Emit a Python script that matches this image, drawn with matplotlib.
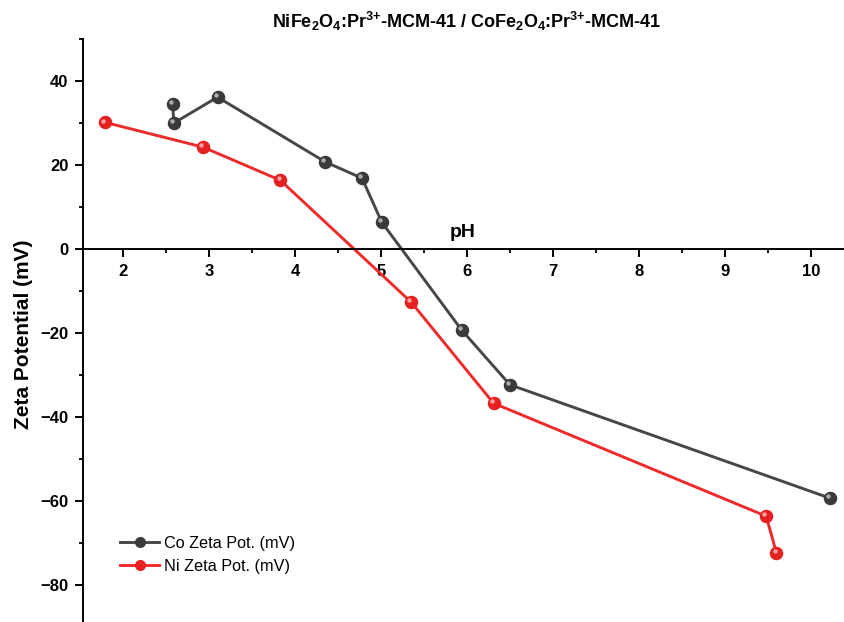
import matplotlib
matplotlib.use('Agg')
import matplotlib.pyplot as plt
from matplotlib.transforms import offset_copy

plt.rcParams['font.family'] = ['Liberation Sans', 'DejaVu Sans']
plt.rcParams['mathtext.fontset'] = 'custom'
plt.rcParams['mathtext.rm'] = 'Liberation Sans:bold'
plt.rcParams['mathtext.default'] = 'rm'

# Co ferrite data
co_ph = [2.58, 2.59, 3.10, 4.35, 4.78, 5.01, 5.94, 6.50, 10.22]
co_zeta = [34.5, 30.0, 36.2, 20.8, 16.9, 6.4, -19.3, -32.3, -59.3]

# Ni ferrite data
ni_ph = [1.79, 2.93, 3.83, 5.35, 6.31, 9.48, 9.60]
ni_zeta = [30.2, 24.3, 16.4, -12.6, -36.7, -63.6, -72.4]

fig = plt.figure(figsize=(8.44, 6.22), dpi=100)
ax = fig.add_axes([0.0983, 0.0, 0.9017, 0.937])

series = [
    (co_ph, co_zeta, '#464646', '#3a3a3a', '#b8b8b8', 'Co Zeta Pot. (mV)'),
    (ni_ph, ni_zeta, '#ee2b2b', '#e52020', '#ffb0b0', 'Ni Zeta Pot. (mV)'),
]
hl_tr = offset_copy(ax.transData, fig=fig, x=-1.3, y=1.3, units='points')
for x, y, lc, fc, hc, lab in series:
    ax.plot(x, y, '-o', color=lc, lw=2.1, ms=8.7, mfc=fc, mec=fc, label=lab)
    ax.plot(x, y, 'o', ms=3.2, mfc=hc, mec='none', alpha=0.9, transform=hl_tr)

ax.set_xlim(1.535, 10.385)
ax.set_ylim(-88.8, 50)

ax.spines['top'].set_visible(False)
ax.spines['right'].set_visible(False)
ax.spines['bottom'].set_position(('data', 0))
for s in ('left', 'bottom'):
    ax.spines[s].set_linewidth(1.4)

ax.set_xticks([2, 3, 4, 5, 6, 7, 8, 9, 10])
ax.set_xticks([2.5, 3.5, 4.5, 5.5, 6.5, 7.5, 8.5, 9.5], minor=True)
ax.set_yticks([-80, -60, -40, -20, 0, 20, 40])
ax.set_yticks([-70, -50, -30, -10, 10, 30, 50], minor=True)
ax.tick_params(which='major', direction='out', length=5.5, width=1.4,
               labelsize=12)
ax.tick_params(which='minor', direction='out', length=3, width=1.3)
ax.tick_params(axis='x', which='major', pad=5)
ax.tick_params(axis='y', which='major', pad=5)
for t in ax.get_xticklabels() + ax.get_yticklabels():
    t.set_fontweight('bold')

ax.text(5.95, 2.9, 'pH', fontsize=14, fontweight='bold', ha='center',
        va='baseline')
ax.set_ylabel('Zeta Potential (mV)', fontsize=15, fontweight='bold')
ax.yaxis.set_label_coords(-0.066, 0.494)
fig.text(0.5535, 0.965,
         r'NiFe$_2$O$_4$:Pr$^{3{+}}$-MCM-41 / CoFe$_2$O$_4$:Pr$^{3{+}}$-MCM-41',
         fontsize=13, fontweight='bold', ha='center', va='center')

ax.legend(loc='lower left', bbox_to_anchor=(0.135, 0.067),
          bbox_transform=fig.transFigure, frameon=False, fontsize=11.7,
          handlelength=2.4, handletextpad=0.3, labelspacing=0.5,
          borderaxespad=0, markerscale=0.8)

fig.savefig('out.png', dpi=100)
